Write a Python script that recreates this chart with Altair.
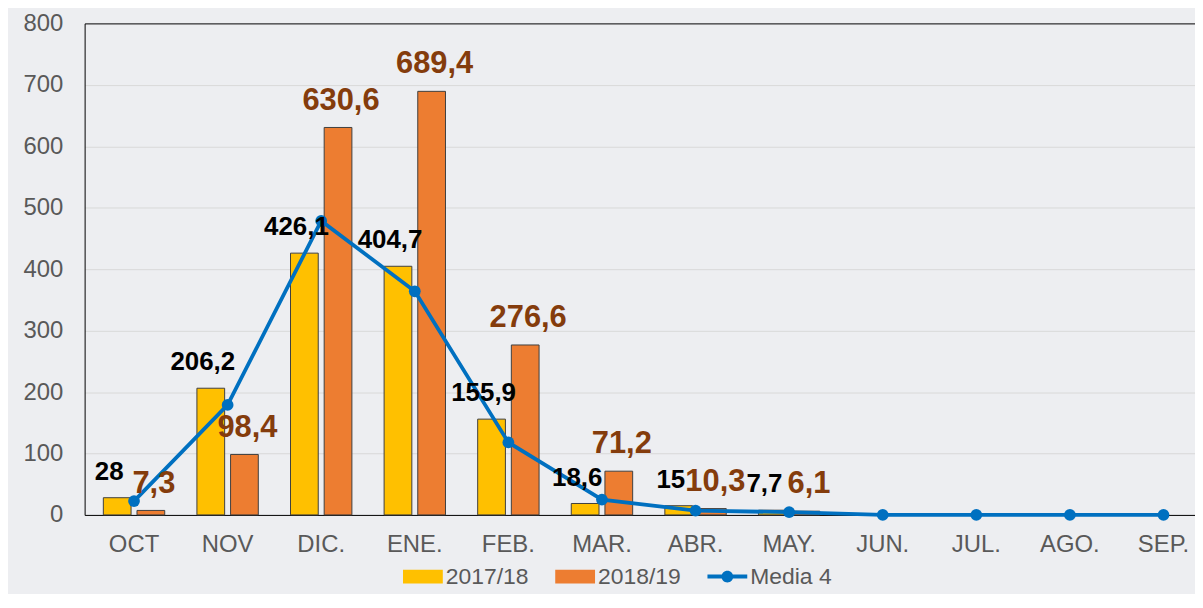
import altair as alt
import pandas as pd

months = ["OCT", "NOV", "DIC.", "ENE.", "FEB.", "MAR.", "ABR.", "MAY.",
          "JUN.", "JUL.", "AGO.", "SEP."]
s2017 = [28, 206.2, 426.1, 404.7, 155.9, 18.6, 15, 7.7]
s2018 = [7.3, 98.4, 630.6, 689.4, 276.6, 71.2, 10.3, 6.1]
media4 = [22.5, 179, 478.5, 364, 118, 25, 7, 4.5, 0, 0, 0, 0]
series = ["2017/18", "2018/19", "Media 4"]
colors = ["#FFC000", "#ED7D31", "#0070C0"]
y_ticks = [0, 100, 200, 300, 400, 500, 600, 700, 800]


def fmt(v):
    return f"{v:g}".replace(".", ",")


df1 = pd.DataFrame({"month": months[:len(s2017)], "series": series[0],
                    "value": s2017, "label": [fmt(v) for v in s2017]})
df2 = pd.DataFrame({"month": months[:len(s2018)], "series": series[1],
                    "value": s2018, "label": [fmt(v) for v in s2018]})
bars_df = pd.concat([df1, df2], ignore_index=True)
line_df = pd.DataFrame({"month": months, "series": series[2], "value": media4})
legend_df = pd.DataFrame({"month": months[:3], "series": series, "value": [0, 0, 0]})

rect_path = "M-1,-0.35L1,-0.35L1,0.35L-1,0.35Z"
line_path = ("M-1,-0.1L1,-0.1L1,0.1L-1,0.1Z "
             "M0.3,0A0.3,0.3 0 1,1 -0.3,0A0.3,0.3 0 1,1 0.3,0Z")

x_scale = alt.Scale(domain=months, range=[0, 1134], paddingInner=0.344)
y_scale = alt.Scale(domain=[0, 800], nice=False)
color_scale = alt.Scale(domain=series, range=colors)
shape_scale = alt.Scale(domain=series, range=[rect_path, rect_path, line_path])
off_scale = alt.Scale(domain=series[:2], paddingInner=0.176)

x_axis = alt.Axis(title=None, labelFontSize=24, labelColor="#595959",
                  ticks=False, labelPadding=18, domainColor="#000000",
                  domainWidth=1, grid=False, labelAngle=0)
y_axis = alt.Axis(title=None, values=y_ticks, labelFontSize=24,
                  labelColor="#595959", ticks=False, labelPadding=22,
                  domainColor="#000000", domainWidth=1,
                  gridColor={"condition": {"test": "datum.value === 800",
                                           "value": "#000000"},
                             "value": "#D9D9D9"})

X = alt.X("month:N", scale=x_scale, sort=months, axis=x_axis)
Y = alt.Y("value:Q", scale=y_scale, axis=y_axis)
C = alt.Color("series:N", scale=color_scale, legend=alt.Legend(title=None))

bars = alt.Chart(bars_df).mark_bar(stroke="#404040", strokeWidth=1).encode(
    x=X,
    xOffset=alt.XOffset("series:N", scale=off_scale),
    y=Y,
    color=C,
)

line = alt.Chart(line_df).mark_line(strokeWidth=3.8).encode(x=X, y=Y, color=C)

points = alt.Chart(line_df).mark_point(filled=True, size=140, opacity=1).encode(
    x=X, y=Y, color=C)

# invisible layer that only carries the legend symbols
legend_layer = alt.Chart(legend_df).mark_point(filled=True, opacity=0).encode(
    x=X, y=Y, color=C,
    shape=alt.Shape("series:N", scale=shape_scale, legend=alt.Legend(title=None)),
)

t1 = alt.Chart(df1).mark_text(baseline="alphabetic", dy=-18, dx=-8, fontSize=26,
                              fontWeight="bold", color="#000000",
                              font="Liberation Sans").encode(
    x=X, xOffset=alt.XOffset("series:N", scale=off_scale), y=Y, text="label:N")

t2 = alt.Chart(df2).mark_text(baseline="alphabetic", dy=-18, dx=3, fontSize=31,
                              fontWeight="bold", color="#843C0C",
                              font="Liberation Sans").encode(
    x=X, xOffset=alt.XOffset("series:N", scale=off_scale), y=Y, text="label:N")

chart = alt.layer(bars, line, points, legend_layer, t1, t2).properties(
    width=1110, height=494,
    padding={"left": 77, "top": 14, "right": 6, "bottom": 78},
    autosize=alt.AutoSizeParams(type="none"),
).configure(
    background="#EDEEF1", font="Liberation Sans"
).configure_view(
    stroke=None
).configure_legend(
    orient="none", legendX=320, legendY=536, direction="horizontal",
    labelFontSize=23, labelColor="#595959", symbolSize=1600,
    columnPadding=26, labelOffset=3, symbolStrokeWidth=0, symbolOpacity=1
)

chart.save("out.html", embed_options={"renderer": "svg", "actions": False})
